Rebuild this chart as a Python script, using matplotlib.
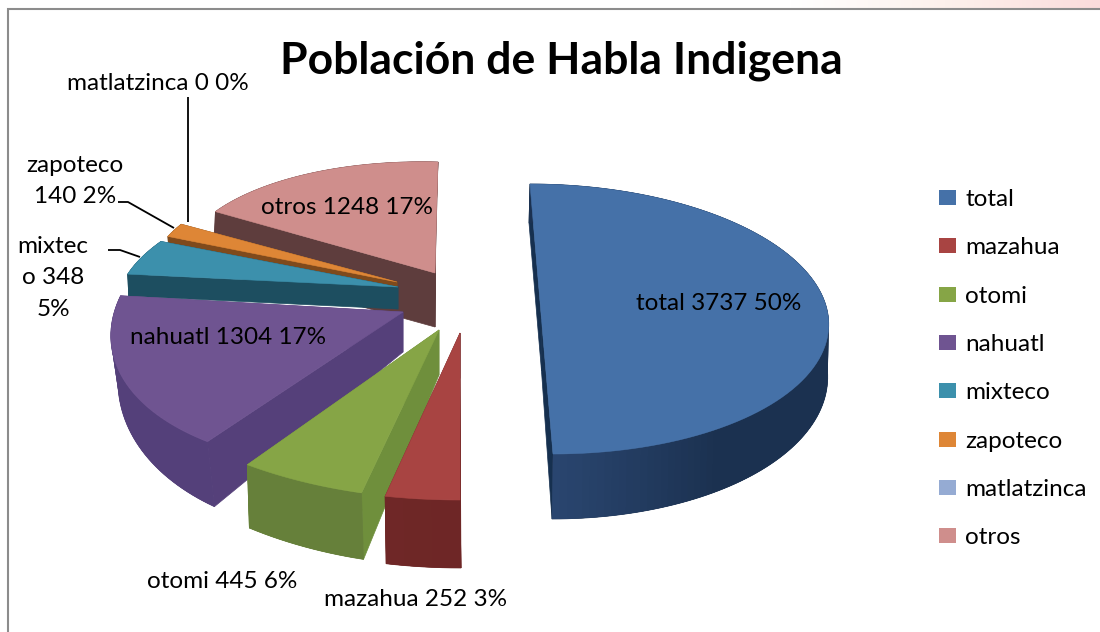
import numpy as np
import matplotlib
matplotlib.use("Agg")
import matplotlib.pyplot as plt
from matplotlib.patches import Polygon, Patch
from matplotlib.colors import to_rgb, LinearSegmentedColormap

plt.rcParams['font.family'] = ['Lato', 'DejaVu Sans']

# ---- data
names = ["total", "mazahua", "otomi", "nahuatl", "mixteco", "zapoteco", "matlatzinca", "otros"]
values = [3737, 252, 445, 1304, 348, 140, 0, 1248]
title = "Población de Habla Indigena"

# ---- styles
top_colors = ["#4571A8", "#A84442", "#86A546", "#6F5491", "#3C90AC", "#DE8636", "#95ABD3", "#CF8E8C"]
rim_from = ["#2A4670", "#6E2626", "#66803A", "#5A4480", "#1D4E60", "#7F4A1C", "#5A6A88", "#5E3D3D"]
rim_to = ["#1B3150", "#702A28", "#66803A", "#54407A", "#1D4E60", "#7F4A1C", "#5A6A88", "#5E3D3D"]
inner_colors = ["#16304F", "#6E2626", "#6F8F3C", "#55407A", "#1D4E60", "#7F4A1C", "#5A6A88", "#5E3D3D"]

# per-slice projection of the exploded 3D pie (screen pixels)
geom = {
    "total":       dict(c=(541.5, 319), R=(287, 0),  B=(11.5, 135), dA=52, dF=13, dx=-1),
    "mazahua":     dict(c=(460, 333),   R=(356, 0),  B=(0, 167),    dA=45, dF=23, dx=1),
    "otomi":       dict(c=(439, 330),   R=(336, 11), B=(-7, 169),   dA=45, dF=22, dx=2),
    "nahuatl":     dict(c=(403, 312),   R=(289, -1), B=(-43, 155),  dA=40, dF=30, dx=7),
    "mixteco":     dict(c=(398, 287),   R=(277, 0),  B=(-45, 116),  dA=22, dF=0,  dx=1),
    "zapoteco":    dict(c=(397, 282),   R=(250, 0),  B=(-2, 116),   dA=14, dF=0,  dx=1),
    "matlatzinca": dict(c=(397, 282),   R=(250, 0),  B=(-2, 116),   dA=14, dF=0,  dx=1),
    "otros":       dict(c=(435, 273),   R=(255, 7),  B=(-3, 111),   dA=54, dF=0,  dx=-2),
}
draw_order = ["otros", "zapoteco", "matlatzinca", "mixteco", "nahuatl", "total", "otomi", "mazahua"]

label_pos = {
    "total": (719, 303), "mazahua": (416, 600), "otomi": (222, 582), "nahuatl": (228, 338),
    "mixteco": (53, 278), "zapoteco": (75, 181), "matlatzinca": (158, 84), "otros": (347, 208),
}
label_wrap = {"mixteco": ("mixtec\no ", "\n"), "zapoteco": ("zapoteco\n", " ")}
leaders = {
    "matlatzinca": [(188, 97), (188, 222)],
    "zapoteco": [(118, 202), (128, 202), (174, 228)],
    "mixteco": [(108, 250), (120, 250), (140, 257)],
}

fig = plt.figure(figsize=(11, 6.32), dpi=100, facecolor="white")
ax = fig.add_axes([0, 0, 1, 1])
ax.set_xlim(0, 1100)
ax.set_ylim(632, 0)
ax.axis("off")

# window chrome: pink band at the top right and the chart frame
band = LinearSegmentedColormap.from_list("band", ["#FFFFFF", "#FDF1EC", "#FBDCDC"])
ax.imshow(np.linspace(0, 1, 256)[None, :], extent=(790, 1100, 8, 0), cmap=band, aspect="auto", zorder=0)
ax.set_xlim(0, 1100)
ax.set_ylim(632, 0)
ax.plot([8, 8, 1100], [632, 9, 9], color="#8C8C8C", lw=1.5, zorder=1, solid_joinstyle="miter")

angles = np.cumsum([0] + values) / sum(values) * 360.0
z = 2


def point(g, th):
    t = np.radians(th)
    s, f = np.sin(t), -np.cos(t)
    return np.column_stack([g["c"][0] + g["R"][0] * s + g["B"][0] * f,
                            g["c"][1] + g["R"][1] * s + g["B"][1] * f])


def lower(g, th, pts):
    f = -np.cos(np.radians(th))
    return pts + np.column_stack([np.full_like(f, g["dx"]), g["dA"] + g["dF"] * f])


for name in draw_order:
    i = names.index(name)
    g = geom[name]
    a0, a1 = angles[i], angles[i + 1]
    if a1 <= a0:
        continue
    apex = np.array([g["c"]], dtype=float)
    apex_low = apex + np.array([[0, g["dA"]]])
    # inner faces
    for edge in (a0, a1):
        p = point(g, np.array([edge]))
        q = lower(g, np.array([edge]), p)
        ax.add_patch(Polygon(np.vstack([apex, p, q, apex_low]), closed=True, fc=inner_colors[i],
                             ec=inner_colors[i], lw=0.5, zorder=z))
    # outer rim: one solid base, then overlapping shaded strips
    th = np.linspace(a0, a1, max(int((a1 - a0) / 1.5), 4) + 1)
    up = point(g, th)
    lo = lower(g, th, up)
    ax.add_patch(Polygon(np.vstack([up, lo[::-1]]), closed=True, fc=rim_to[i], ec=rim_to[i], lw=0.5, zorder=z))
    c0, c1 = np.array(to_rgb(rim_from[i])), np.array(to_rgb(rim_to[i]))
    front = np.clip(np.abs(th - 180) / 90, 0, 1)
    for k in range(len(th) - 1):
        col = c0 + (c1 - c0) * min(1.0, front[k] * 2.5)
        j = min(k + 2, len(th) - 1)
        ax.add_patch(Polygon(np.vstack([up[k], up[k + 1:j + 1], lo[k + 1:j + 1][::-1], lo[k]]), closed=True,
                             fc=col, ec="none", zorder=z))
    # top face
    ax.add_patch(Polygon(np.vstack([apex, point(g, np.linspace(a0, a1, 90))]), closed=True,
                         fc=top_colors[i], ec=top_colors[i], lw=0.4, zorder=z + 0.5))
    z += 1

# leader lines
for pts in leaders.values():
    xs, ys = zip(*pts)
    ax.plot(xs, ys, color="black", lw=1.3, zorder=40, solid_capstyle="butt")

# data labels
label_fs = 17.5
for i, name in enumerate(names):
    pct = round(values[i] / sum(values) * 100)
    a, b = label_wrap.get(name, (name + " ", " "))
    txt = f"{a}{values[i]}{b}{pct}%"
    x, y = label_pos[name]
    ax.text(x, y, txt, ha="center", va="center", fontsize=label_fs, color="black",
            linespacing=1.6, zorder=50)

ax.text(561, 61, title, ha="center", va="center", fontsize=32, fontweight="bold", color="black", zorder=50)

handles = [Patch(fc=c, ec="none", label=n) for n, c in zip(names, top_colors)]
leg = ax.legend(handles=handles, loc="upper left", bbox_to_anchor=(939 / 1100, 1 - 189 / 632),
                frameon=False, fontsize=17.5, labelspacing=1.125, handlelength=0.7,
                handleheight=0.57, handletextpad=0.37, borderpad=0, borderaxespad=0)
leg.set_zorder(50)

fig.savefig("out.png", dpi=100)
